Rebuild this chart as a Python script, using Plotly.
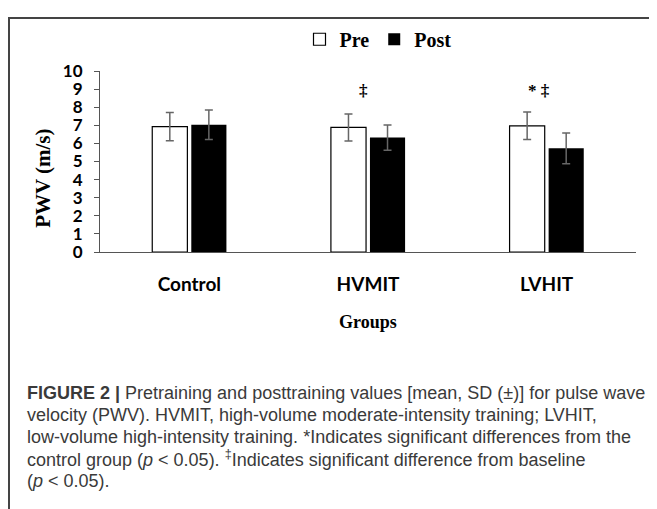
import plotly.graph_objects as go

# ---- data ----
groups = ["Control", "HVMIT", "LVHIT"]
pre_mean = [6.93, 6.88, 6.97]
pre_sd = [0.78, 0.75, 0.76]
post_mean = [7.03, 6.32, 5.73]
post_sd = [0.82, 0.70, 0.85]
sig_groups = ["HVMIT", "LVHIT"]
sig_marks = ["‡", "* ‡"]
sig_y = [8.9, 8.9]

caption_lines = [
    "<b>FIGURE 2 |</b> Pretraining and posttraining values [mean, SD (±)] for pulse wave",
    "velocity (PWV). HVMIT, high-volume moderate-intensity training; LVHIT,",
    "low-volume high-intensity training. *Indicates significant differences from the",
    "control group (<i>p</i> &lt; 0.05). <sup>‡</sup>Indicates significant difference from baseline",
    "(<i>p</i> &lt; 0.05).",
]

# page body has an 8px margin, so the figure is drawn 8px in from the window edge
OFF = 8
W, H = 657 - OFF, 509 - OFF
L, R, T, B = 100 - OFF, 21, 64 - OFF, 257
PW, PH = W - L - R, H - T - B

def px(x):  # window pixel -> paper x
    return (x - OFF - L) / PW

def py(y):  # window pixel -> paper y
    return (H - B - (y - OFF)) / PH

ecol = "#666666"
fig = go.Figure()
fig.add_trace(go.Bar(
    name="Pre", x=groups, y=pre_mean,
    marker=dict(color="white", line=dict(color="black", width=1.2)),
    error_y=dict(type="data", array=pre_sd, color=ecol, thickness=1.5, width=4),
))
fig.add_trace(go.Bar(
    name="Post", x=groups, y=post_mean,
    marker=dict(color="black", line=dict(color="black", width=0)),
    error_y=dict(type="data", array=post_sd, color=ecol, thickness=1.5, width=4),
))

shifts = [-5, -8]
for g, m, yy, s in zip(sig_groups, sig_marks, sig_y, shifts):
    fig.add_annotation(x=g, y=yy, xref="x", yref="y", text=m, showarrow=False,
                       xshift=s, font=dict(family="Liberation Serif", size=17, color="black", weight="bold"))

# y-axis title
fig.add_annotation(x=px(43), y=py(176), xref="paper", yref="paper", text="PWV (m/s)",
                   textangle=-90, showarrow=False, xanchor="center", yanchor="middle",
                   font=dict(family="Liberation Serif", size=21, color="black", weight="bold"))
# x-axis title
fig.add_annotation(x=0.5, y=py(325), xref="paper", yref="paper", text="Groups",
                   showarrow=False, xanchor="center", yanchor="middle",
                   font=dict(family="Liberation Serif", size=18, color="black", weight="bold"))

# caption
for i, line in enumerate(caption_lines):
    fig.add_annotation(x=px(25), y=py(398 + 23 * i), xref="paper", yref="paper", text=line,
                       showarrow=False, xanchor="left", yanchor="middle", align="left",
                       font=dict(family="Liberation Sans", size=18, color="#3a3a3a"))

# frame
fig.add_shape(type="rect", xref="paper", yref="paper",
              x0=px(9), x1=px(700), y0=py(560), y1=py(9),
              line=dict(color="#444444", width=2), fillcolor="rgba(0,0,0,0)", layer="below")

fig.update_layout(
    width=W, height=H,
    margin=dict(l=L, r=R, t=T, b=B, pad=0),
    paper_bgcolor="white", plot_bgcolor="white",
    barmode="group", bargap=0.563, bargroupgap=0.1,
    showlegend=True,
    legend=dict(orientation="h", x=px(378), y=py(31), xanchor="center", yanchor="middle",
                bgcolor="rgba(0,0,0,0)", itemwidth=30,
                font=dict(family="Liberation Serif", size=20, color="black", weight="bold")),
    xaxis=dict(showline=True, linecolor="#555555", linewidth=1, ticks="", showgrid=False,
               ticklabelstandoff=15,
               tickfont=dict(family="Lato", size=19, color="black", weight="bold")),
    yaxis=dict(range=[0, 10], dtick=1, showline=True, linecolor="#555555", linewidth=1,
               ticks="outside", ticklen=5, tickcolor="#555555", showgrid=False, zeroline=False,
               ticklabelstandoff=8,
               tickfont=dict(family="Lato", size=17, color="black", weight="bold")),
)

fig.write_html("out.html")
